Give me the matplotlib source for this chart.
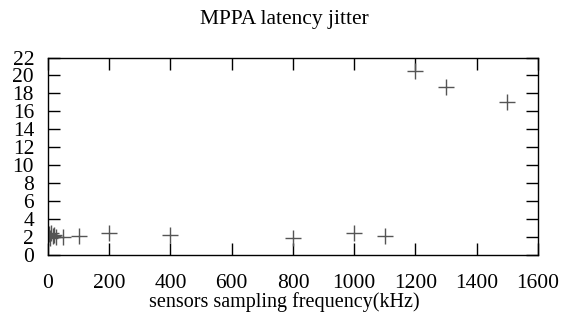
import matplotlib
matplotlib.use('Agg')
import matplotlib.pyplot as plt
import numpy as np

# sampling frequency (kHz) vs latency jitter
freq_khz = [1, 3, 6, 10, 15, 20, 25, 50, 100, 200, 400, 800, 1000, 1100, 1200, 1300, 1500]
jitter = [2.0, 2.3, 1.9, 2.4, 2.1, 2.2, 2.0, 2.0, 2.15, 2.4, 2.2, 1.9, 2.5, 2.1, 20.5, 18.7, 17.0]

xticks = np.arange(0, 1601, 200)
yticks = np.arange(0, 23, 2)

plt.rcParams['font.family'] = ['Liberation Serif', 'DejaVu Serif']

fig = plt.figure(figsize=(5.68, 3.31), dpi=100)
ax = fig.add_axes([0.0845, 0.2296, 0.8625, 0.5966])

ax.plot(freq_khz, jitter, linestyle='none', marker='+', markersize=11.5,
        markeredgewidth=1.0, color='#555555')

ax.set_xlim(0, 1600)
ax.set_ylim(0, 22)
ax.set_xticks(xticks)
ax.set_yticks(yticks)
ax.tick_params(direction='in', length=8.5, width=1.0, top=True, right=True,
               labelsize=15.5, colors='black')
ax.tick_params(axis='x', pad=14)
ax.tick_params(axis='y', pad=10)
for s in ax.spines.values():
    s.set_linewidth(1.0)

# title and xlabel are centred on the canvas, not on the axes
cx = (0.5 - 0.0845) / 0.8625
ax.set_title('MPPA latency jitter', fontsize=15.5, pad=24, x=cx)
ax.set_xlabel('sensors sampling frequency(kHz)', fontsize=14.5, labelpad=-1)
ax.xaxis.label.set_x(cx)

fig.savefig('out.png', dpi=100)
